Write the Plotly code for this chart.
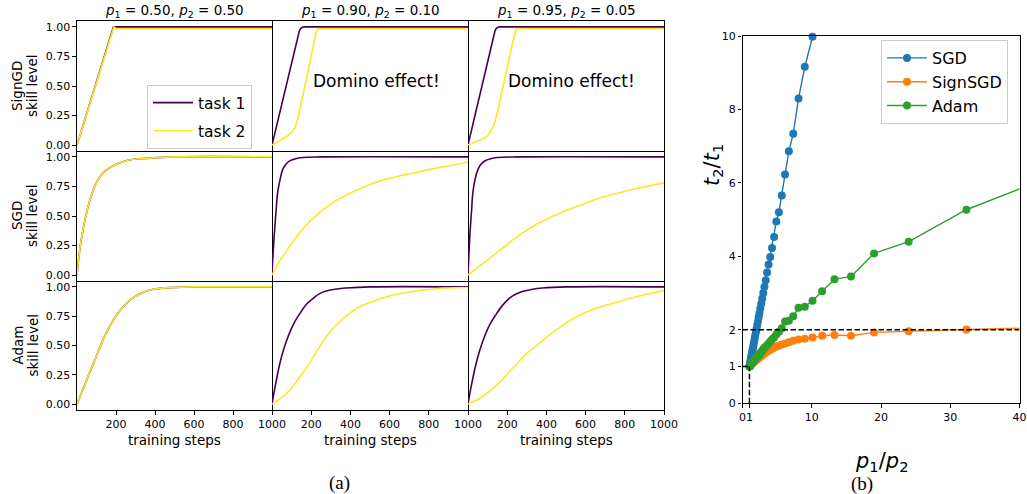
import plotly.graph_objects as go

W, H = 1027, 494
PURPLE = "#440154"
YELLOW = "#fde725"
C_SGD, C_SIGN, C_ADAM = "#1f77b4", "#ff7f0e", "#2ca02c"

# ---------------- (a) skill level vs training steps -------------
col_p1 = ["0.50", "0.90", "0.95"]
col_p2 = ["0.50", "0.10", "0.05"]
row_names = ["SignGD", "SGD", "Adam"]
x_ticks_a = [200, 400, 600, 800, 1000]
y_ticks_a = [0.0, 0.25, 0.50, 0.75, 1.00]

# SignGD row
signgd_050_t1_x = [0, 187, 1000]
signgd_050_t1_y = [0.0, 1.0, 1.0]
signgd_050_t2_x = [0, 189, 200, 1000]
signgd_050_t2_y = [0.0, 1.0, 0.985, 0.985]
signgd_090_t1_x = [0, 132, 140, 147, 155, 165, 1000]
signgd_090_t1_y = [0.0, 0.94, 0.97, 0.988, 0.997, 1.0, 1.0]
signgd_090_t2_x = [0, 20, 37, 60, 88, 104, 116, 126, 134, 228, 236, 1000]
signgd_090_t2_y = [0.0, 0.015, 0.034, 0.06, 0.09, 0.115, 0.145, 0.19, 0.24, 0.97, 0.985, 0.985]
signgd_095_t1_x = [0, 130, 138, 145, 152, 162, 1000]
signgd_095_t1_y = [0.0, 0.94, 0.97, 0.988, 0.997, 1.0, 1.0]
signgd_095_t2_x = [0, 30, 60, 85, 102, 114, 126, 138, 146, 242, 250, 1000]
signgd_095_t2_y = [0.0, 0.02, 0.04, 0.06, 0.085, 0.11, 0.145, 0.2, 0.25, 0.97, 0.985, 0.985]

# SGD row
sgd_050_x = [0, 8, 17, 34, 51, 75, 102, 130, 170, 255, 374, 500, 1000]
sgd_050_y = [0.0, 0.13, 0.25, 0.41, 0.54, 0.68, 0.79, 0.86, 0.91, 0.97, 0.99, 1.0, 1.0]
sgd_090_t1_x = [0, 5, 12, 20, 29, 40, 54, 70, 88, 120, 156, 250, 1000]
sgd_090_t1_y = [0.0, 0.17, 0.35, 0.53, 0.70, 0.80, 0.89, 0.935, 0.965, 0.985, 0.995, 1.0, 1.0]
sgd_090_t2_x = [0, 40, 80, 156, 250, 327, 420, 497, 580, 667, 750, 837, 920, 1000]
sgd_090_t2_y = [0.0, 0.12, 0.22, 0.39, 0.54, 0.63, 0.71, 0.765, 0.81, 0.845, 0.875, 0.905, 0.93, 0.955]
sgd_095_t1_x = [0, 5, 10, 18, 25, 36, 50, 65, 85, 115, 150, 250, 1000]
sgd_095_t1_y = [0.0, 0.19, 0.35, 0.54, 0.70, 0.81, 0.89, 0.935, 0.965, 0.985, 0.995, 1.0, 1.0]
sgd_095_t2_x = [0, 50, 110, 200, 264, 350, 450, 570, 689, 840, 1000]
sgd_095_t2_y = [0.0, 0.065, 0.14, 0.26, 0.34, 0.43, 0.51, 0.59, 0.66, 0.725, 0.78]

# Adam row
adam_050_x = [0, 30, 60, 90, 119, 145, 170, 195, 221, 255, 289, 340, 391, 493, 600, 1000]
adam_050_y = [0.0, 0.125, 0.25, 0.37, 0.49, 0.59, 0.67, 0.74, 0.80, 0.86, 0.91, 0.955, 0.98, 0.995, 1.0, 1.0]
adam_090_t1_x = [0, 15, 39, 60, 90, 115, 141, 175, 209, 240, 277, 330, 379, 500, 1000]
adam_090_t1_y = [0.0, 0.14, 0.34, 0.47, 0.61, 0.70, 0.77, 0.85, 0.90, 0.94, 0.965, 0.982, 0.99, 1.0, 1.0]
adam_090_t2_x = [0, 50, 99, 145, 192, 235, 277, 320, 362, 405, 447, 530, 617, 700, 787, 880, 1000]
adam_090_t2_y = [0.0, 0.055, 0.135, 0.24, 0.35, 0.47, 0.575, 0.66, 0.73, 0.785, 0.83, 0.885, 0.93, 0.955, 0.975, 0.99, 0.995]
adam_095_t1_x = [0, 15, 39, 60, 90, 115, 141, 175, 209, 240, 277, 330, 379, 500, 1000]
adam_095_t1_y = [0.0, 0.14, 0.33, 0.46, 0.60, 0.69, 0.76, 0.84, 0.90, 0.935, 0.96, 0.98, 0.99, 1.0, 1.0]
adam_095_t2_x = [0, 61, 110, 163, 230, 299, 350, 401, 490, 571, 650, 741, 820, 895, 1000]
adam_095_t2_y = [0.0, 0.05, 0.11, 0.19, 0.31, 0.43, 0.50, 0.57, 0.68, 0.76, 0.815, 0.86, 0.9, 0.93, 0.97]

curves = [
    [(signgd_050_t1_x, signgd_050_t1_y, signgd_050_t2_x, signgd_050_t2_y),
     (signgd_090_t1_x, signgd_090_t1_y, signgd_090_t2_x, signgd_090_t2_y),
     (signgd_095_t1_x, signgd_095_t1_y, signgd_095_t2_x, signgd_095_t2_y)],
    [(sgd_050_x, sgd_050_y, sgd_050_x, sgd_050_y),
     (sgd_090_t1_x, sgd_090_t1_y, sgd_090_t2_x, sgd_090_t2_y),
     (sgd_095_t1_x, sgd_095_t1_y, sgd_095_t2_x, sgd_095_t2_y)],
    [(adam_050_x, adam_050_y, adam_050_x, adam_050_y),
     (adam_090_t1_x, adam_090_t1_y, adam_090_t2_x, adam_090_t2_y),
     (adam_095_t1_x, adam_095_t1_y, adam_095_t2_x, adam_095_t2_y)],
]

# ---------------- (b) t2/t1 vs p1/p2 ----------------
ratio_p = [1.0, 1.0408, 1.0833, 1.1277, 1.1739, 1.2222, 1.2727, 1.3256, 1.3810, 1.4390,
           1.5, 1.5641, 1.6316, 1.7027, 1.7778, 1.8571, 1.9412, 2.0303, 2.125, 2.2258,
           2.3333, 2.4483, 2.5714, 2.7037, 2.8462, 3.0, 3.1667, 3.3478, 3.5455, 3.7619,
           4.0, 4.2632, 4.5556, 4.8824, 5.25, 5.6667, 6.1429, 6.6923, 7.3333, 8.0909,
           9.0, 10.111, 11.5, 13.286, 15.667, 19.0, 24.0, 32.333, 49.0]
sgd_t = [1.0, 1.04, 1.08, 1.13, 1.17, 1.22, 1.27, 1.33, 1.38, 1.44,
         1.50, 1.56, 1.63, 1.70, 1.78, 1.86, 1.94, 2.03, 2.13, 2.23,
         2.34, 2.45, 2.58, 2.71, 2.85, 3.0, 3.17, 3.35, 3.56, 3.78,
         3.98, 4.23, 4.53, 4.95, 5.2, 5.66, 6.23, 6.86, 7.34, 8.30,
         9.16, 9.98]
signsgd_t = [1.00, 1.01, 1.02, 1.03, 1.04, 1.05, 1.06, 1.075, 1.085, 1.095,
             1.105, 1.115, 1.125, 1.135, 1.15, 1.16, 1.17, 1.185, 1.20, 1.215,
             1.23, 1.25, 1.265, 1.285, 1.31, 1.33, 1.355, 1.38, 1.41, 1.44,
             1.46, 1.485, 1.51, 1.545, 1.57, 1.60, 1.625, 1.66, 1.70, 1.74,
             1.76, 1.79, 1.84, 1.86, 1.84, 1.93, 1.96, 2.01, 2.08]
adam_t = [1.00, 1.01, 1.02, 1.03, 1.04, 1.06, 1.07, 1.08, 1.10, 1.11,
          1.13, 1.14, 1.16, 1.17, 1.19, 1.21, 1.23, 1.25, 1.27, 1.29,
          1.31, 1.34, 1.36, 1.39, 1.43, 1.47, 1.51, 1.54, 1.58, 1.62,
          1.68, 1.74, 1.79, 1.87, 1.95, 2.04, 2.23, 2.25, 2.37, 2.60,
          2.63, 2.79, 3.05, 3.38, 3.45, 4.08, 4.40, 5.27, 6.5]
x_ticks_b = [0, 1, 10, 20, 30, 40]
y_ticks_b = [0, 1, 2, 4, 6, 8, 10]
ref_level = 2      # dashed reference t2/t1 = 2
base_point = 1     # dashed guides at p1/p2 = 1, t2/t1 = 1

# ---------------- figure ----------------
def px_x(v):
    return v / W

def px_y(v):
    return 1 - v / H

fig = go.Figure()
col_px = [(77, 272), (272, 468), (468, 664)]
row_px = [(21, 151), (151, 281), (281, 410)]
layout = dict(width=W, height=H, margin=dict(l=0, r=0, t=0, b=0, autoexpand=False),
              paper_bgcolor="white", plot_bgcolor="white",
              font=dict(family="DejaVu Sans", color="black", size=11),
              showlegend=True)

common = dict(ticklen=3.5, tickwidth=1, tickcolor="black", linecolor="black", linewidth=1.2,
              showgrid=False, zeroline=False, fixedrange=True, tickangle=0, automargin=False,
              tickfont=dict(size=11))

for r in range(3):
    for c in range(3):
        i = r * 3 + c + 1
        sx = "" if i == 1 else str(i)
        t1x, t1y, t2x, t2y = curves[r][c]
        shp = "linear" if r == 0 else "spline"
        fig.add_trace(go.Scatter(x=t1x, y=t1y, mode="lines", name="task 1",
                                 line=dict(color=PURPLE, width=1.6, shape=shp),
                                 legendgroup="t1", showlegend=(i == 1), legend="legend",
                                 xaxis="x" + sx, yaxis="y" + sx))
        fig.add_trace(go.Scatter(x=t2x, y=t2y, mode="lines", name="task 2",
                                 line=dict(color=YELLOW, width=1.6, shape=shp),
                                 legendgroup="t2", showlegend=(i == 1), legend="legend",
                                 xaxis="x" + sx, yaxis="y" + sx))
        x0, x1 = col_px[c]
        y0, y1 = row_px[r]
        layout["xaxis" + sx] = dict(domain=[px_x(x0), px_x(x1)], range=[0, 1000],
                                    anchor="y" + sx, tickvals=x_ticks_a,
                                    showticklabels=(r == 2), ticks="outside" if r == 2 else "",
                                    showline=True, mirror=(r == 0), side="bottom", **common)
        layout["yaxis" + sx] = dict(domain=[px_y(y1), px_y(y0)], range=[-0.05, 1.05],
                                    anchor="x" + sx, tickvals=y_ticks_a, tickformat=".2f",
                                    showticklabels=(c == 0), ticks="outside" if c == 0 else "",
                                    showline=True, mirror=(c == 0),
                                    side="left" if c == 0 else "right", **common)

# panel (b)
n_sgd = len(sgd_t)
fig.add_trace(go.Scatter(x=ratio_p[:n_sgd], y=sgd_t, mode="lines+markers", name="SGD",
                         line=dict(color=C_SGD, width=1.4), marker=dict(size=8, color=C_SGD),
                         legend="legend2", legendgroup="a", cliponaxis=False,
                         xaxis="x10", yaxis="y10"))
fig.add_trace(go.Scatter(x=ratio_p, y=signsgd_t, mode="lines+markers", name="SignSGD",
                         line=dict(color=C_SIGN, width=1.4), marker=dict(size=8, color=C_SIGN),
                         legend="legend2", legendgroup="b",
                         xaxis="x10", yaxis="y10"))
fig.add_trace(go.Scatter(x=ratio_p, y=adam_t, mode="lines+markers", name="Adam",
                         line=dict(color=C_ADAM, width=1.4), marker=dict(size=8, color=C_ADAM),
                         legend="legend2", legendgroup="c",
                         xaxis="x10", yaxis="y10"))

layout["xaxis10"] = dict(domain=[px_x(742.5), px_x(1019.5)], range=[0, 40], anchor="y10",
                         tickvals=x_ticks_b, ticks="outside", showline=True, mirror=True,
                         **common)
layout["yaxis10"] = dict(domain=[px_y(403.3), px_y(36)], range=[0, 10], anchor="x10",
                         tickvals=y_ticks_b, ticks="outside", showline=True, mirror=True,
                         **common)

dash = "5.5px,2.5px"
shapes = [
    dict(type="line", xref="x10", yref="y10", x0=0, x1=40, y0=ref_level, y1=ref_level,
         line=dict(color="black", width=1.5, dash=dash), layer="above"),
    dict(type="line", xref="x10", yref="y10", x0=base_point, x1=base_point, y0=0, y1=base_point,
         line=dict(color="black", width=1.5, dash=dash), layer="above"),
    dict(type="line", xref="x10", yref="y10", x0=0, x1=base_point, y0=base_point, y1=base_point,
         line=dict(color="black", width=1.5, dash=dash), layer="above"),
]
layout["shapes"] = shapes

layout["legend"] = dict(x=px_x(147), y=px_y(85), xanchor="left", yanchor="top",
                        bordercolor="#cccccc", borderwidth=1, bgcolor="rgba(255,255,255,0.85)",
                        font=dict(size=15.5), tracegroupgap=5, traceorder="grouped",
                        itemwidth=40)
layout["legend2"] = dict(x=px_x(881), y=px_y(40), xanchor="left", yanchor="top",
                         bordercolor="#cccccc", borderwidth=1, bgcolor="rgba(255,255,255,0.85)",
                         font=dict(size=16), tracegroupgap=0, traceorder="grouped",
                         itemwidth=40)

ann = []
col_centers = [174.5, 370, 566]
for c in range(3):
    ann.append(dict(x=px_x(col_centers[c]), y=px_y(11), xref="paper", yref="paper",
                    text=f"<i>p</i><sub>1</sub> = {col_p1[c]}, <i>p</i><sub>2</sub> = {col_p2[c]}",
                    showarrow=False, font=dict(size=13.5), xanchor="center", yanchor="middle"))
    ann.append(dict(x=px_x(col_centers[c]), y=px_y(440), xref="paper", yref="paper",
                    text="training steps", showarrow=False, font=dict(size=13.5),
                    xanchor="center", yanchor="middle"))
row_centers = [86, 216, 345.5]
for r in range(3):
    ann.append(dict(x=px_x(17), y=px_y(row_centers[r]), xref="paper", yref="paper",
                    text=row_names[r], textangle=-90, showarrow=False, font=dict(size=13.5),
                    xanchor="center", yanchor="middle"))
    ann.append(dict(x=px_x(32), y=px_y(row_centers[r]), xref="paper", yref="paper",
                    text="skill level", textangle=-90, showarrow=False, font=dict(size=13.5),
                    xanchor="center", yanchor="middle"))
for cx in [376.7, 571.7]:
    ann.append(dict(x=px_x(cx), y=px_y(81), xref="paper", yref="paper", text="Domino effect!",
                    showarrow=False, font=dict(size=17), xanchor="center", yanchor="middle"))
ann.append(dict(x=px_x(713), y=px_y(165), xref="paper", yref="paper",
                text="<i>t</i><sub>2</sub>/<i>t</i><sub>1</sub>", textangle=-90, showarrow=False,
                font=dict(size=21), xanchor="center", yanchor="middle"))
ann.append(dict(x=px_x(881), y=px_y(462), xref="paper", yref="paper",
                text="<i>p</i><sub>1</sub>/<i>p</i><sub>2</sub>", showarrow=False,
                font=dict(size=21), xanchor="center", yanchor="middle", borderpad=0))
ann.append(dict(x=px_x(339), y=px_y(483), xref="paper", yref="paper", text="(a)",
                showarrow=False, font=dict(size=19, family="Liberation Serif"),
                xanchor="center", yanchor="middle", borderpad=0))
ann.append(dict(x=px_x(862), y=px_y(484), xref="paper", yref="paper", text="(b)",
                showarrow=False, font=dict(size=19, family="Liberation Serif"),
                xanchor="center", yanchor="middle", borderpad=0))
layout["annotations"] = ann

fig.update_layout(**layout)
fig.write_html("out.html")
